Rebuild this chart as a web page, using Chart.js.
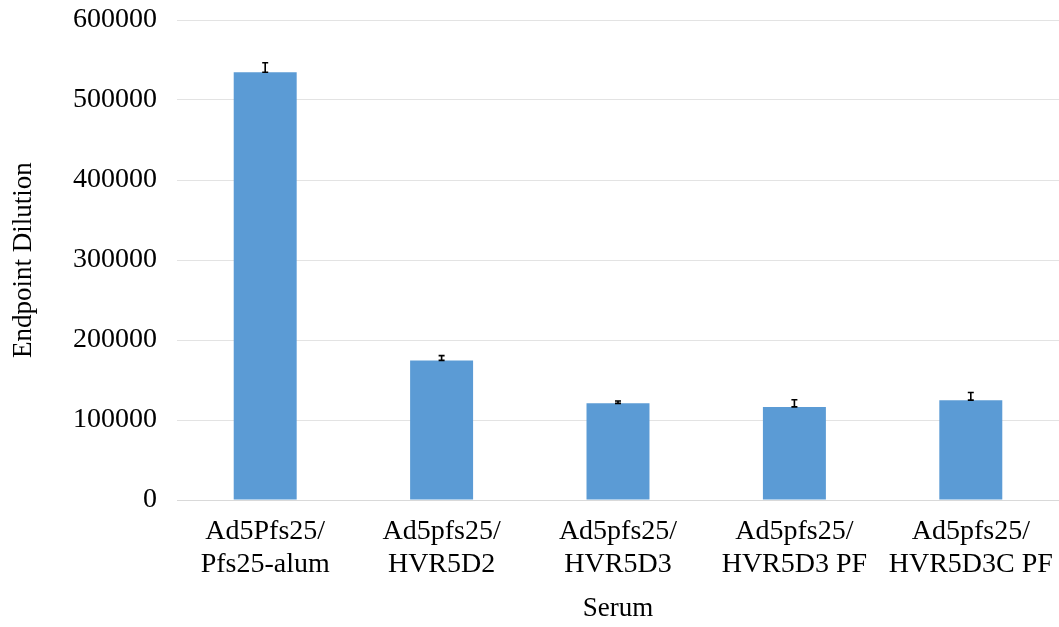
<!DOCTYPE html>
<html>
<head>
<meta charset="utf-8">
<script src="https://cdn.jsdelivr.net/npm/chart.js"></script>
<style>
  html, body { margin: 0; padding: 0; background: #fff; }
  #wrap { width: 1059px; height: 627px; }
</style>
</head>
<body>
<div id="wrap"><canvas id="chart"></canvas></div>
<script>
const categories = [
    ['Ad5Pfs25/', 'Pfs25-alum'],
    ['Ad5pfs25/', 'HVR5D2'],
    ['Ad5pfs25/', 'HVR5D3'],
    ['Ad5pfs25/', 'HVR5D3 PF'],
    ['Ad5pfs25/', 'HVR5D3C PF']
]
const endpointValues = [534600, 174500, 120800, 116400, 124800]
// error bars only go upward (plus direction)
const errorValues = [12000, 6000, 3000, 9000, 9600]

const errorBars = {
    id: 'errorBars',
    afterDatasetsDraw(chart) {
        const ctx = chart.ctx
        const y = chart.scales.y
        const meta = chart.getDatasetMeta(0)
        ctx.save()
        ctx.strokeStyle = '#000'
        ctx.lineWidth = 1.6
        meta.data.forEach((bar, i) => {
            const top = y.getPixelForValue(endpointValues[i] + errorValues[i])
            const bottom = y.getPixelForValue(endpointValues[i])
            ctx.beginPath()
            ctx.moveTo(bar.x, top)
            ctx.lineTo(bar.x, bottom)
            ctx.moveTo(bar.x - 3, top)
            ctx.lineTo(bar.x + 3, top)
            ctx.moveTo(bar.x - 3, bottom)
            ctx.lineTo(bar.x + 3, bottom)
            ctx.stroke()
        })
        ctx.restore()
    }
}

const serif = 'Liberation Serif, Times New Roman, serif'

new Chart(document.getElementById('chart'), {
    type: 'bar',
    data: {
        labels: categories,
        datasets: [{
            data: endpointValues,
            backgroundColor: '#5b9bd5',
            categoryPercentage: 0.357,
            barPercentage: 1
        }]
    },
    options: {
        responsive: true,
        maintainAspectRatio: false,
        animation: false,
        layout: { padding: { top: 20, right: 0, left: 4, bottom: 0 } },
        plugins: { legend: { display: false }, tooltip: { enabled: false } },
        scales: {
            x: {
                grid: { display: false, drawTicks: false },
                border: { color: '#d9d9d9', width: 1 },
                ticks: { color: '#000', padding: 16, font: { family: serif, size: 28, lineHeight: 1.15 } },
                title: { display: true, text: 'Serum', color: '#000', font: { family: serif, size: 27 }, padding: { top: 0, bottom: 2 } },
                afterFit(s) {
                    s.height = 127
                    s.paddingLeft = 0
                    s.paddingRight = 0
                }
            },
            y: {
                min: 0,
                max: 600000,
                ticks: {
                    stepSize: 100000,
                    color: '#000',
                    padding: 20,
                    font: { family: serif, size: 28 },
                    callback: v => String(v)
                },
                grid: { color: '#e3e3e3', drawTicks: false },
                border: { display: false },
                title: { display: true, text: 'Endpoint Dilution', color: '#000', font: { family: serif, size: 27 } },
                afterFit(s) {
                    s.width = 173
                    s.paddingTop = 0
                    s.paddingBottom = 0
                }
            }
        }
    },
    plugins: [errorBars]
})
</script>
</body>
</html>
